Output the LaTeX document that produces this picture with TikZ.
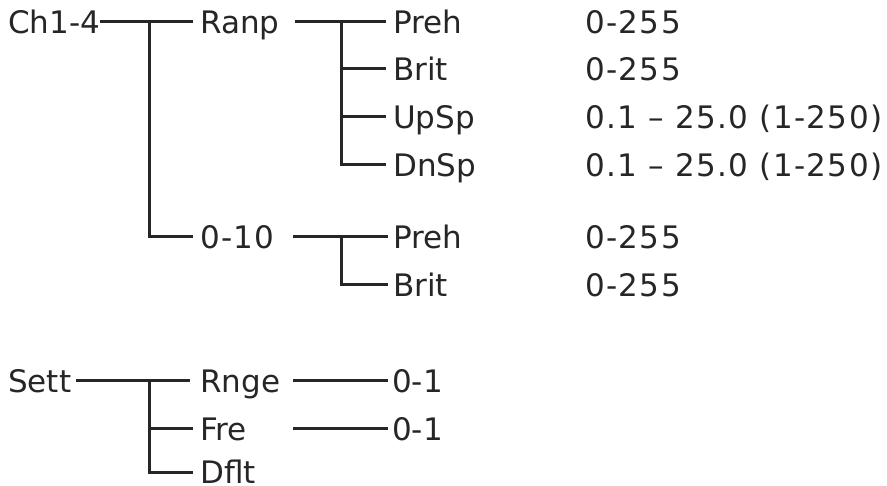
\documentclass[tikz,border=0pt]{standalone}
\usepackage{fontspec}
\setmainfont{DejaVu Sans}
\newfontfamily\numfont[LetterSpace=4.5]{DejaVu Sans}
\begin{document}
\begin{tikzpicture}[x=1pt,y=-1pt,
  lbl/.style={anchor=west,inner xsep=0pt,inner ysep=0pt,text height=23pt,text depth=0pt,font=\fontsize{31}{31}\selectfont,text=black!85},
  num/.style={lbl,font=\fontsize{31}{31}\numfont},
  conn/.style={line width=3pt,draw=black!85}]
\useasboundingbox (0,0) rectangle (887,486);
% top tree
\node[lbl] (ch) at (8,22) {Ch1-4};
\node[lbl] (ranp) at (200,22) {Ranp};
\node[num] (o10) at (200,237) {0-10};
\coordinate (j1) at (149,22);
\node[lbl] (p1) at (393,22) {Preh};
\node[lbl] (b1) at (393,69) {Brit};
\node[lbl] (u1) at (393,117) {UpSp};
\node[lbl] (d1) at (393,165) {DnSp};
\node[lbl] (p2) at (393,237) {Preh};
\node[lbl] (b2) at (393,285) {Brit};
\coordinate (j2) at (341,22);
\coordinate (j3) at (341,237);
\node[num] (vp1) at (585,22) {0-255};
\node[num] (vb1) at (585,69) {0-255};
\node[num] (vu1) at (585,117) {0.1 – 25.0 (1-250)};
\node[num] (vd1) at (585,165) {0.1 – 25.0 (1-250)};
\node[num] (vp2) at (585,237) {0-255};
\node[num] (vb2) at (585,285) {0-255};
% bottom tree
\node[lbl] (sett) at (8,381) {Sett};
\node[lbl] (rnge) at (200,381) {Rnge};
\node[lbl] (fre) at (200,429) {Fre};
\node[lbl] (dflt) at (200,472) {Dflt};
\node[lbl] (v01a) at (392,381) {0-1};
\node[lbl] (v01b) at (392,429) {0-1};
\coordinate (j4) at (149,381);
% connectors
\draw[conn] (ch.east) -- ([xshift=-7pt]ranp.west);
\draw[conn] (j1) |- ([xshift=-7pt]o10.west);
\draw[conn] ([xshift=15pt]ranp.east) -- ([xshift=-7pt]p1.west);
\draw[conn] (j2) |- ([xshift=-7pt]b1.west);
\draw[conn] (j2) |- ([xshift=-7pt]u1.west);
\draw[conn] (j2) |- ([xshift=-7pt]d1.west);
\draw[conn] ([xshift=293pt-200pt]o10.west) -- ([xshift=-5pt]p2.west);
\draw[conn] (j3) |- ([xshift=-5pt]b2.west);
\draw[conn] ([xshift=5pt]sett.east) -- ([xshift=-10pt]rnge.west);
\draw[conn] (j4) |- ([xshift=-7pt]fre.west);
\draw[conn] (j4) |- ([xshift=-7pt]dflt.west);
\draw[conn] ([xshift=293pt-200pt]rnge.west) -- ([xshift=-4pt]v01a.west);
\draw[conn] ([xshift=293pt-200pt]fre.west) -- ([xshift=-4pt]v01b.west);
\end{tikzpicture}
\end{document}
